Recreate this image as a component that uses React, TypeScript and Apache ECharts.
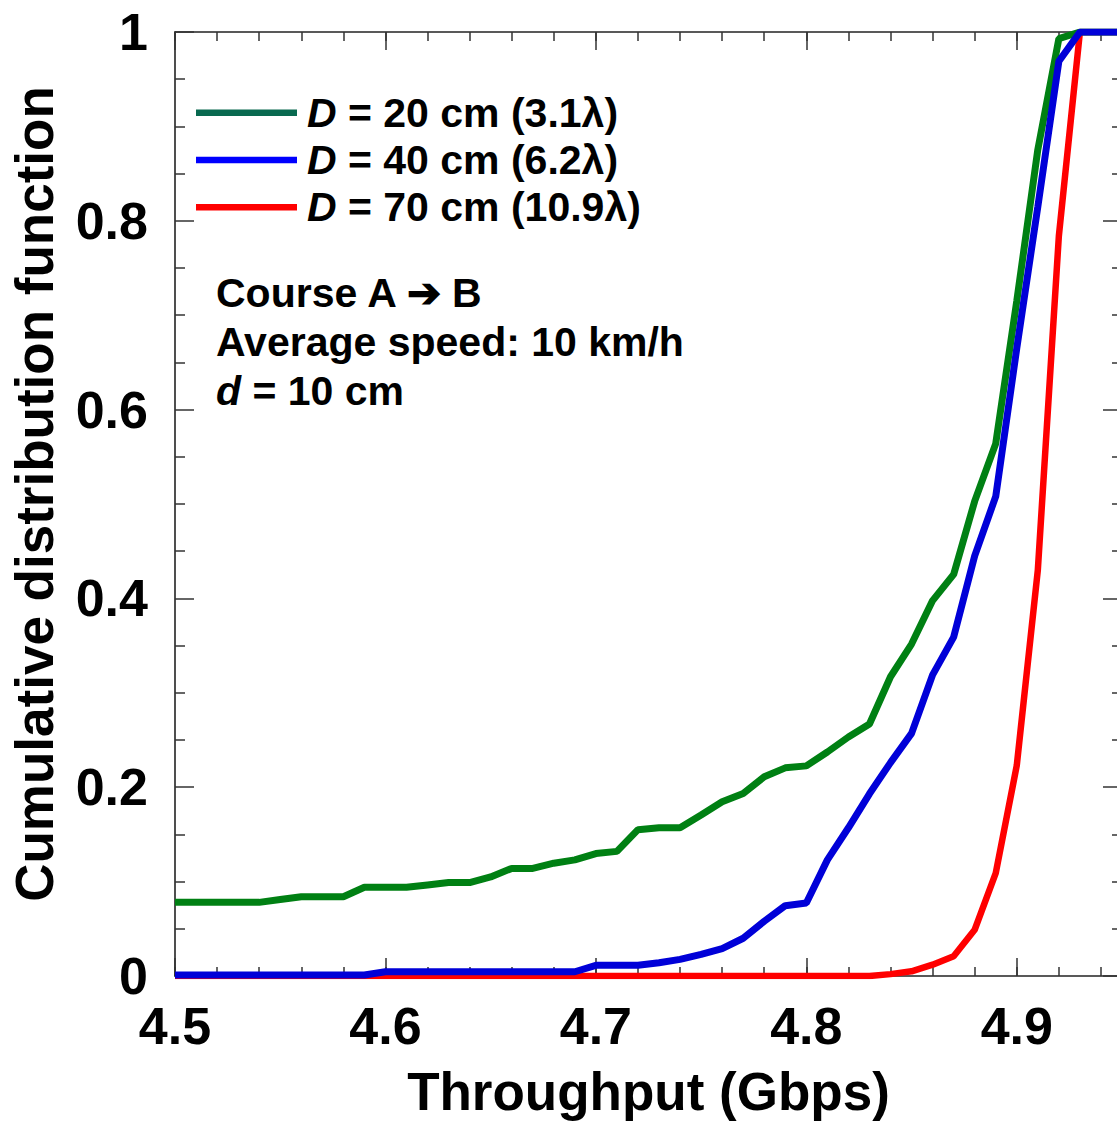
import React, { useEffect, useRef } from "react";
import * as echarts from "echarts";

// ---- data ----
const throughput = [
  4.5, 4.51, 4.52, 4.53, 4.54, 4.55, 4.56, 4.57, 4.58, 4.59,
  4.6, 4.61, 4.62, 4.63, 4.64, 4.65, 4.66, 4.67, 4.68, 4.69,
  4.7, 4.71, 4.72, 4.73, 4.74, 4.75, 4.76, 4.77, 4.78, 4.79,
  4.8, 4.81, 4.82, 4.83, 4.84, 4.85, 4.86, 4.87, 4.88, 4.89,
  4.9, 4.91, 4.92, 4.93, 4.94, 4.95,
];

const cdfD20 = [
  0.078, 0.078, 0.078, 0.078, 0.078, 0.081, 0.084, 0.084, 0.084, 0.094,
  0.094, 0.094, 0.0965, 0.099, 0.099, 0.105, 0.114, 0.114, 0.1195, 0.123,
  0.1297, 0.132, 0.155, 0.157, 0.157, 0.1706, 0.1846, 0.1934, 0.211, 0.2205,
  0.2226, 0.2373, 0.2532, 0.267, 0.317, 0.3516, 0.3977, 0.4254, 0.503, 0.564,
  0.715, 0.8755, 0.993, 1, 1, 1,
];

const cdfD40 = [
  0.001, 0.001, 0.001, 0.001, 0.001, 0.001, 0.001, 0.001, 0.001, 0.001,
  0.0045, 0.0045, 0.0045, 0.0045, 0.0045, 0.0045, 0.0045, 0.0045, 0.0045, 0.0045,
  0.0113, 0.0113, 0.0113, 0.014, 0.0176, 0.023, 0.029, 0.04, 0.058, 0.0745,
  0.0774, 0.123, 0.157, 0.193, 0.226, 0.257, 0.319, 0.359, 0.445, 0.508,
  0.665, 0.815, 0.969, 1, 1, 1,
];

const cdfD70 = [
  0, 0, 0, 0, 0, 0, 0, 0, 0, 0,
  0, 0, 0, 0, 0, 0, 0, 0, 0, 0,
  0, 0, 0, 0, 0, 0, 0, 0, 0, 0,
  0, 0, 0, 0, 0.002, 0.005, 0.012, 0.021, 0.049, 0.109,
  0.223, 0.43, 0.784, 1, 1, 1,
];

const xTickLabels = ["4.5", "4.6", "4.7", "4.8", "4.9"];
const yTickLabels = ["0", "0.2", "0.4", "0.6", "0.8", "1"];

const seriesDistances = ["20", "40", "70"];
const seriesWavelengths = ["3.1λ", "6.2λ", "10.9λ"];
const seriesColors = ["#008013", "#0000d8", "#ff0000"];
const legendColors = ["#08694f", "#0000ff", "#ff0000"];

const noteLines = ["Course A ➔ B", "Average speed: 10 km/h", "{i|d} = 10 cm"];

const xTitle = "Throughput (Gbps)";
const yTitle = "Cumulative distribution function";

const FONT = '"Liberation Sans", Arial, Helvetica, sans-serif';

export default function App() {
  const ref = useRef<HTMLDivElement | null>(null);

  useEffect(() => {
    if (!ref.current) return;
    const chart = echarts.init(ref.current, undefined, { renderer: "svg" });

    const axisLineStyle = { color: "#222", width: 1.6 };
    const tickStyle = { color: "#333", width: 1.5 };

    const findLabel = (labels: string[], v: number) =>
      labels.find((l) => Math.abs(parseFloat(l) - v) < 1e-6) ?? "";

    const labelStyle = {
      fontFamily: FONT,
      fontWeight: "bold" as const,
      fontSize: 52,
      color: "#000",
    };

    const curves = [cdfD20, cdfD40, cdfD70];
    const widths = [7, 7, 6.5];
    const seriesOrder = [2, 0, 1]; // red at bottom, blue on top

    const series = seriesOrder.map((k) => ({
      type: "line" as const,
      name: `D = ${seriesDistances[k]} cm (${seriesWavelengths[k]})`,
      xAxisIndex: 0,
      yAxisIndex: 0,
      data: throughput.map((x, i) => [x, curves[k][i]]),
      showSymbol: false,
      symbol: "none",
      color: seriesColors[k],
      lineStyle: { width: widths[k], color: seriesColors[k] },
      z: 3,
    }));

    const richItalic = {
      i: {
        fontFamily: FONT,
        fontWeight: "bold",
        fontStyle: "italic",
        fontSize: 41,
        fill: "#000",
      },
    };

    const graphics: any[] = [];
    // legend
    seriesDistances.forEach((d, i) => {
      const y = 112.7 + i * 47.3;
      graphics.push({
        type: "line",
        shape: { x1: 196, y1: y, x2: 297, y2: y },
        style: { stroke: legendColors[i], lineWidth: 6.5 },
        z: 10,
      });
      graphics.push({
        type: "text",
        x: 307,
        y: y,
        style: {
          text: `{i|D} = ${d} cm (${seriesWavelengths[i]})`,
          fontFamily: FONT,
          fontWeight: "bold",
          fontSize: 41,
          fill: "#000",
          align: "left",
          verticalAlign: "middle",
          rich: richItalic,
        },
        z: 10,
      });
    });
    // annotation
    noteLines.forEach((t, i) => {
      graphics.push({
        type: "text",
        x: 216,
        y: 292.5 + i * 49,
        style: {
          text: t,
          fontFamily: FONT,
          fontWeight: "bold",
          fontSize: 41,
          fill: "#000",
          align: "left",
          verticalAlign: "middle",
          rich: richItalic,
        },
        z: 10,
      });
    });
    // y-axis title
    graphics.push({
      type: "text",
      x: 34,
      y: 494,
      rotation: Math.PI / 2,
      style: {
        text: yTitle,
        fontFamily: FONT,
        fontWeight: "bold",
        fontSize: 53,
        fill: "#000",
        align: "center",
        verticalAlign: "middle",
      },
      z: 10,
    });

    const baseX = {
      type: "value" as const,
      min: 4.5,
      max: 4.95,
      splitLine: { show: false },
    };
    const baseY = {
      type: "value" as const,
      min: 0,
      max: 1,
      interval: 0.2,
      splitLine: { show: false },
    };

    chart.setOption({
      animation: false,
      backgroundColor: "#fff",
      grid: { left: 175, top: 32, right: 0, bottom: 143, containLabel: false },
      xAxis: [
        {
          ...baseX,
          position: "bottom",
          interval: 0.1,
          axisLine: { show: true, onZero: false, lineStyle: axisLineStyle },
          axisTick: { show: true, inside: true, length: 18, lineStyle: tickStyle },
          axisLabel: {
            ...labelStyle,
            margin: 24,
            formatter: (v: number) => findLabel(xTickLabels, v),
          },
          name: xTitle,
          nameLocation: "middle",
          nameGap: 89,
          nameTextStyle: { fontFamily: FONT, fontWeight: "bold", fontSize: 53, color: "#000" },
        },
        {
          ...baseX,
          position: "bottom",
          interval: 0.02,
          axisLine: { show: false, onZero: false },
          axisTick: { show: true, inside: true, length: 9, lineStyle: tickStyle },
          axisLabel: { show: false },
        },
        {
          ...baseX,
          position: "top",
          interval: 0.1,
          axisLine: { show: true, onZero: false, lineStyle: axisLineStyle },
          axisTick: { show: true, inside: true, length: 18, lineStyle: tickStyle },
          axisLabel: { show: false },
        },
        {
          ...baseX,
          position: "top",
          interval: 0.02,
          axisLine: { show: false, onZero: false },
          axisTick: { show: true, inside: true, length: 9, lineStyle: tickStyle },
          axisLabel: { show: false },
        },
      ],
      yAxis: [
        {
          ...baseY,
          position: "left",
          axisLine: { show: true, onZero: false, lineStyle: axisLineStyle },
          axisTick: { show: true, inside: true, length: 19, lineStyle: tickStyle },
          minorTick: { show: true, splitNumber: 4, length: 10, lineStyle: tickStyle },
          axisLabel: {
            ...labelStyle,
            margin: 27,
            formatter: (v: number) => findLabel(yTickLabels, v),
          },
        },
        {
          ...baseY,
          position: "right",
          axisLine: { show: true, onZero: false, lineStyle: axisLineStyle },
          axisTick: { show: true, inside: true, length: 19, lineStyle: tickStyle },
          minorTick: { show: true, splitNumber: 4, length: 10, lineStyle: tickStyle },
          axisLabel: { show: false },
        },
      ],
      series,
      graphic: graphics,
    });

    return () => {
      chart.dispose();
    };
  }, []);

  return (
    <div
      style={{
        position: "absolute",
        left: 0,
        top: 0,
        width: 1117,
        height: 1123,
        overflow: "hidden",
        background: "#fff",
      }}
    >
      <div ref={ref} style={{ width: 1125, height: 1123 }} />
    </div>
  );
}
